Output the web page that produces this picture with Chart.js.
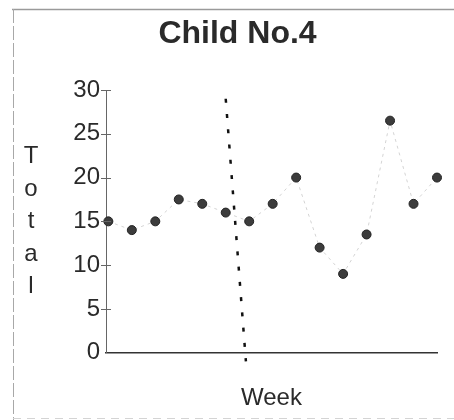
<!DOCTYPE html>
<html>
<head>
<meta charset="utf-8">
<title>Child No.4</title>
<script src="https://cdn.jsdelivr.net/npm/chart.js@4/dist/chart.umd.min.js"></script>
<style>
  html, body { margin: 0; padding: 0; background: #fff; }
  #wrap { width: 454px; height: 420px; position: relative; }
</style>
</head>
<body>
<div id="wrap"><canvas id="chart" width="454" height="420"></canvas></div>
<script>
// Weekly totals for child no. 4
const weeks  = [1, 2, 3, 4, 5, 6, 7, 8, 9, 10, 11, 12, 13, 14, 15];
const totals = [15, 14, 15, 17.5, 17, 16, 15, 17, 20, 12, 9, 13.5, 26.5, 17, 20];
const yTicks = [0, 5, 10, 15, 20, 25, 30];

// Phase-change line (drawn between weeks 6 and 7)
const phaseX = [6.0, 6.86];
const phaseY = [29, -1];

const yTitle = 'Total';
const FONT = "'Liberation Sans', Arial, sans-serif";

const points = weeks.map((w, i) => ({ x: w, y: totals[i] }));
const phase = phaseX.map((x, i) => ({ x: x, y: phaseY[i] }));

// Frame, stacked y title and crossing tick marks
const decor = {
  id: 'decor',
  beforeDraw(chart) {
    const ctx = chart.ctx;
    ctx.save();
    ctx.strokeStyle = '#9a9a9a';
    ctx.lineWidth = 1.5;
    ctx.beginPath();
    ctx.moveTo(12, 9.5); ctx.lineTo(454, 9.5);
    ctx.stroke();
    ctx.strokeStyle = '#a8a8a8';
    ctx.lineWidth = 1;
    ctx.setLineDash([14, 3]);
    ctx.beginPath();
    ctx.moveTo(13.5, 9); ctx.lineTo(13.5, 420);
    ctx.stroke();
    ctx.setLineDash([8, 6]);
    ctx.strokeStyle = '#d4d4d4';
    ctx.beginPath();
    ctx.moveTo(13, 418.5); ctx.lineTo(454, 418.5);
    ctx.stroke();
    ctx.restore();
  },
  afterDraw(chart) {
    const ctx = chart.ctx;
    const y = chart.scales.y;
    const x0 = chart.chartArea.left;
    ctx.save();
    ctx.strokeStyle = '#666';
    ctx.lineWidth = 1;
    yTicks.forEach(v => {
      if (v === 0) return;
      const py = Math.round(y.getPixelForValue(v)) + 0.5;
      ctx.beginPath();
      ctx.moveTo(x0 - 5, py); ctx.lineTo(x0 + 5, py);
      ctx.stroke();
    });
    ctx.fillStyle = '#2a2a2a';
    ctx.font = '24px ' + FONT;
    ctx.textAlign = 'center';
    ctx.textBaseline = 'alphabetic';
    const letters = yTitle.split('');
    letters.forEach((ch, i) => {
      ctx.fillText(ch, 31, 163 + i * 32.5);
    });
    ctx.restore();
  }
};

new Chart(document.getElementById('chart'), {
  type: 'scatter',
  data: {
    datasets: [
      {
        label: 'Total',
        data: points,
        showLine: true,
        borderColor: '#d4d4d4',
        borderWidth: 1,
        borderDash: [3, 4],
        pointRadius: 4.5,
        pointBackgroundColor: '#3c3c3c',
        pointBorderColor: '#222',
        pointBorderWidth: 1,
        clip: false
      },
      {
        label: 'Phase change',
        data: phase,
        showLine: true,
        borderColor: '#111',
        borderWidth: 2.5,
        borderDash: [4, 11.3],
        pointRadius: 0,
        clip: false
      }
    ]
  },
  options: {
    responsive: false,
    animation: false,
    devicePixelRatio: 1,
    layout: { padding: { left: 38, right: 17, top: 0, bottom: 0 } },
    plugins: {
      legend: { display: false },
      tooltip: { enabled: false },
      title: {
        display: true,
        text: 'Child No.4',
        color: '#2a2a2a',
        font: { family: FONT, size: 32, weight: 'bold' },
        padding: { top: 15, bottom: 36.6 }
      }
    },
    scales: {
      x: {
        type: 'linear',
        min: 0.9,
        max: 15.0,
        ticks: { display: false },
        grid: { display: false },
        border: { display: true, color: '#333', width: 1.5 },
        title: {
          display: true,
          text: 'Week',
          color: '#2a2a2a',
          font: { family: FONT, size: 24 },
          padding: { top: 0, bottom: 7 }
        },
        afterFit(s) { s.height = 67.3; }
      },
      y: {
        type: 'linear',
        min: 0,
        max: 30,
        afterBuildTicks(s) { s.ticks = yTicks.map(v => ({ value: v })); },
        ticks: {
          color: '#2a2a2a',
          font: { family: FONT, size: 24 },
          padding: 6
        },
        grid: { display: true, drawOnChartArea: false, drawTicks: false },
        border: { display: true, color: '#666', width: 1 },
        afterFit(s) { s.width = 68; }
      }
    }
  },
  plugins: [decor]
});
</script>
</body>
</html>
